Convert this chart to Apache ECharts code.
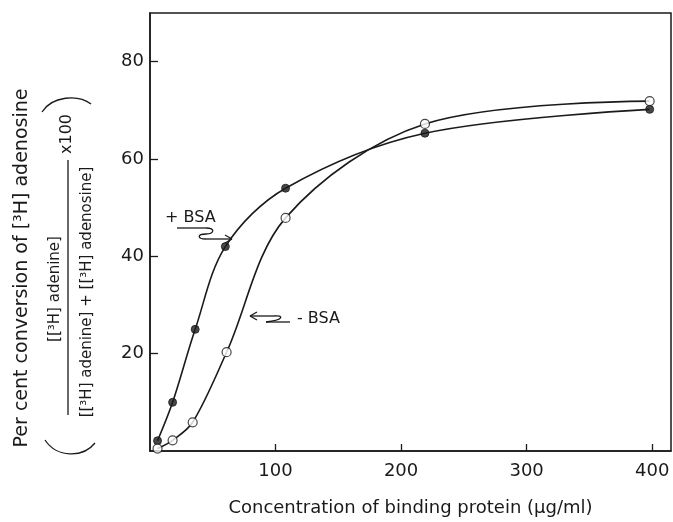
<!DOCTYPE html>
<html>
<head>
<meta charset="utf-8">
<script src="https://cdn.jsdelivr.net/npm/echarts@6/dist/echarts.min.js"></script>
<style>
html, body { margin: 0; padding: 0; background: #fff; }
#chart { width: 673px; height: 522px; }
</style>
</head>
<body>
<div id="chart"></div>
<script>
// values
const concPlus = [6, 18, 36, 60, 108, 219, 398]
const plusBSA = [2.1, 10, 25, 42, 54, 65.3, 70.2]
const concMinus = [6, 18, 34, 61, 108, 219, 398]
const minusBSA = [0.5, 2.2, 5.9, 20.3, 47.9, 67.2, 71.9]
const xTicks = [100, 200, 300, 400]
const yTicks = [20, 40, 60, 80]

const ink = '#1a1a1a'
const font = '"DejaVu Sans", sans-serif'

function pairs(xs, ys) {
  return xs.map((x, i) => [x, ys[i]])
}

// smooth curve through the points, one bezier piece per gap, in pixel space
function curveSeries(pts) {
  const smooth = 0.33
  return {
    type: 'custom',
    data: pts,
    encode: { x: 0, y: 1 },
    clip: false,
    silent: true,
    z: 1,
    renderItem: function(params, api) {
      const i = params.dataIndex
      const n = pts.length
      if (i >= n - 1) return null
      const c = k => api.coord(pts[Math.max(0, Math.min(n - 1, k))])
      const p0 = c(i - 1), p1 = c(i), p2 = c(i + 1), p3 = c(i + 2)
      const dist = (a, b) => Math.hypot(a[0] - b[0], a[1] - b[1])
      const d01 = dist(p0, p1), d12 = dist(p1, p2), d23 = dist(p2, p3)
      let cp1 = p1
      if (i > 0) {
        const r = d12 / (d01 + d12)
        cp1 = [p1[0] + (p2[0] - p0[0]) * smooth * r, p1[1] + (p2[1] - p0[1]) * smooth * r]
      }
      let cp2 = p2
      if (i + 2 < n) {
        const r = d12 / (d12 + d23)
        cp2 = [p2[0] - (p3[0] - p1[0]) * smooth * r, p2[1] - (p3[1] - p1[1]) * smooth * r]
      }
      return {
        type: 'bezierCurve',
        shape: {
          x1: p1[0], y1: p1[1],
          cpx1: cp1[0], cpy1: cp1[1],
          cpx2: cp2[0], cpy2: cp2[1],
          x2: p2[0], y2: p2[1]
        },
        style: { stroke: ink, lineWidth: 1.6, fill: null }
      }
    }
  }
}

// small helpers for the hand-drawn bits
function curve(x1, y1, cpx1, cpy1, cpx2, cpy2, x2, y2) {
  return {
    type: 'bezierCurve',
    shape: { x1, y1, cpx1, cpy1, cpx2, cpy2, x2, y2 },
    style: { stroke: ink, lineWidth: 1.3, fill: null }
  }
}
function seg(x1, y1, x2, y2, w) {
  return {
    type: 'line',
    shape: { x1, y1, x2, y2 },
    style: { stroke: ink, lineWidth: w || 1.3 }
  }
}
function vtext(text, x, y, size) {
  return {
    type: 'text',
    x: x,
    y: y,
    rotation: Math.PI / 2,
    style: {
      text: text,
      fontSize: size,
      fontFamily: font,
      fill: ink,
      align: 'center',
      verticalAlign: 'middle'
    }
  }
}

const plusPts = pairs(concPlus, plusBSA)
const minusPts = pairs(concMinus, minusBSA)

const chart = echarts.init(document.getElementById('chart'))

chart.setOption({
  backgroundColor: '#fff',
  animation: false,
  grid: {
    left: 150,
    right: 2,
    top: 13,
    bottom: 61,
    show: true,
    borderColor: ink,
    borderWidth: 1.5
  },
  xAxis: {
    type: 'value',
    min: 0,
    max: 415,
    splitLine: { show: false },
    axisLine: { lineStyle: { color: ink, width: 1.5 } },
    axisTick: { inside: true, length: 7, customValues: xTicks, lineStyle: { color: ink, width: 1.3 } },
    axisLabel: { customValues: xTicks, margin: 11, color: ink, fontSize: 18, fontFamily: font },
    name: 'Concentration of binding protein (µg/ml)',
    nameLocation: 'middle',
    nameGap: 48,
    nameTextStyle: { color: ink, fontSize: 18, fontFamily: font }
  },
  yAxis: {
    type: 'value',
    min: 0,
    max: 90,
    splitLine: { show: false },
    axisLine: { lineStyle: { color: ink, width: 1.5 } },
    axisTick: { inside: true, length: 8, customValues: yTicks, lineStyle: { color: ink, width: 1.3 } },
    axisLabel: { customValues: yTicks, margin: 6, color: ink, fontSize: 18, fontFamily: font }
  },
  series: [
    curveSeries(plusPts),
    curveSeries(minusPts),
    {
      name: '+ BSA',
      type: 'scatter',
      data: plusPts,
      clip: false,
      symbol: 'circle',
      symbolSize: 8,
      z: 3,
      itemStyle: { color: ink, borderColor: ink, borderWidth: 1 }
    },
    {
      name: '- BSA',
      type: 'scatter',
      data: minusPts,
      clip: false,
      symbol: 'circle',
      symbolSize: 9,
      z: 3,
      itemStyle: { color: '#fff', borderColor: ink, borderWidth: 1.2 }
    }
  ],
  graphic: [
    // y axis title, written sideways
    vtext('Per cent conversion of [³H] adenosine', 22, 268, 19),
    vtext('[[³H] adenine]', 55, 289, 15),
    vtext('[[³H] adenine] + [[³H] adenosine]', 87, 292, 15),
    vtext('x100', 67, 134, 16),
    seg(68, 160, 68, 415, 1.3),
    curve(42, 112, 52, 96, 78, 94, 91, 104),
    curve(45, 440, 57, 458, 83, 458, 95, 443),
    // + BSA label and its pointer
    {
      type: 'text', x: 165, y: 218,
      style: { text: '+ BSA', fontSize: 16, fontFamily: font, fill: ink, verticalAlign: 'middle' }
    },
    seg(177, 228, 206, 228),
    curve(206, 228, 216, 228, 214, 234, 206, 234),
    curve(206, 234, 197, 234, 197, 239, 206, 239),
    seg(206, 239, 232, 239),
    seg(232, 239, 225, 235),
    seg(232, 239, 225, 243),
    // - BSA label and its pointer
    {
      type: 'text', x: 297, y: 319,
      style: { text: '- BSA', fontSize: 16, fontFamily: font, fill: ink, verticalAlign: 'middle' }
    },
    seg(250, 316, 274, 316),
    curve(274, 316, 284, 315, 284, 320, 266, 322),
    seg(266, 322, 290, 322),
    seg(250, 316, 257, 312),
    seg(250, 316, 257, 320)
  ]
})
</script>
</body>
</html>
